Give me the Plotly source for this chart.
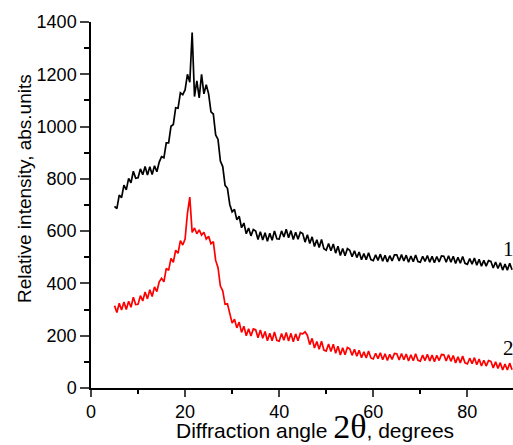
import plotly.graph_objects as go

# 2-theta grid (degrees)
two_theta = [5.0 + 0.5 * i for i in range(170)]

# Curve 1 (black)
curve1 = [
    695, 686, 738, 728, 776, 758, 802, 785, 829, 802,
    804, 838, 816, 847, 815, 846, 817, 850, 827, 864,
    885, 881, 938, 938, 1001, 1008, 1072, 1070, 1129, 1122,
    1140, 1200, 1170, 1360, 1115, 1175, 1110, 1200, 1125, 1160,
    1125, 1056, 1048, 968, 951, 868, 847, 775, 764, 702,
    674, 683, 643, 657, 613, 631, 590, 612, 582, 606,
    600, 568, 598, 566, 594, 561, 592, 565, 601, 571,
    570, 601, 578, 607, 575, 602, 568, 596, 569, 596,
    591, 558, 586, 553, 578, 541, 567, 537, 568, 533,
    527, 553, 525, 551, 516, 542, 507, 534, 506, 533,
    527, 502, 525, 499, 520, 491, 514, 491, 517, 491,
    487, 509, 488, 512, 485, 508, 482, 506, 486, 509,
    509, 486, 510, 486, 508, 481, 505, 483, 509, 484,
    481, 504, 484, 507, 481, 504, 479, 503, 482, 505,
    504, 481, 506, 481, 504, 476, 500, 477, 503, 477,
    473, 495, 474, 497, 470, 492, 466, 488, 466, 487,
    484, 459, 482, 457, 479, 451, 474, 451, 477, 452,
]

# Curve 2 (red)
curve2 = [
    315, 289, 324, 298, 329, 300, 332, 309, 347, 319,
    320, 353, 333, 367, 341, 376, 350, 387, 369, 406,
    420, 406, 458, 450, 496, 481, 527, 515, 564, 547,
    570, 668, 730, 595, 612, 590, 605, 585, 596, 570,
    580, 552, 560, 488, 460, 390, 372, 320, 322, 278,
    248, 263, 230, 252, 213, 236, 200, 227, 199, 226,
    223, 192, 222, 190, 216, 181, 209, 181, 214, 182,
    179, 208, 183, 212, 180, 209, 177, 207, 181, 209,
    207, 215, 201, 166, 190, 153, 178, 148, 179, 145,
    141, 168, 140, 167, 133, 160, 126, 154, 127, 155,
    150, 125, 148, 122, 144, 116, 138, 115, 141, 115,
    111, 133, 112, 135, 108, 131, 105, 129, 109, 132,
    131, 107, 132, 108, 130, 103, 127, 104, 131, 106,
    103, 126, 105, 129, 103, 126, 101, 125, 105, 128,
    127, 103, 127, 102, 124, 96, 119, 96, 122, 96,
    92, 114, 93, 116, 89, 111, 84, 106, 84, 105,
    102, 77, 100, 75, 97, 69, 92, 69, 95, 70,
]

curve_labels = ["1", "2"]
x_ticks = [0, 20, 40, 60, 80]
y_ticks = [0, 200, 400, 600, 800, 1000, 1200, 1400]

fig = go.Figure()
fig.add_trace(go.Scatter(x=two_theta, y=curve1, mode="lines",
                         line=dict(color="black", width=1.7), showlegend=False))
fig.add_trace(go.Scatter(x=two_theta, y=curve2, mode="lines",
                         line=dict(color="#ff0000", width=1.7), showlegend=False))

tickfont = dict(family="Liberation Sans, Arial", size=18, color="black")
fig.update_xaxes(range=[0, 89.7], tickvals=x_ticks, ticks="outside", ticklen=7,
                 tickwidth=1.5, showline=True, linecolor="black", linewidth=1.5,
                 showgrid=False, zeroline=False, tickfont=tickfont,
                 minor=dict(dtick=10, ticks="outside", ticklen=4, tickwidth=1.5,
                            tickcolor="black", showgrid=False))
fig.update_yaxes(range=[0, 1400], tickvals=y_ticks, ticks="outside", ticklen=9,
                 tickwidth=1.5, showline=True, linecolor="black", linewidth=1.5,
                 showgrid=False, zeroline=False, tickfont=tickfont,
                 minor=dict(dtick=100, ticks="outside", ticklen=5, tickwidth=1.5,
                            tickcolor="black", showgrid=False))

fig.add_annotation(x=88.8, y=531, xref="x", yref="y", text=curve_labels[0],
                   showarrow=False, font=dict(family="Liberation Serif", size=21, color="black"))
fig.add_annotation(x=88.8, y=153, xref="x", yref="y", text=curve_labels[1],
                   showarrow=False, font=dict(family="Liberation Serif", size=21, color="black"))

fig.add_annotation(x=-0.156, y=0.544, xref="paper", yref="paper",
                   xanchor="center", yanchor="middle",
                   text="Relative intensity, abs.units", textangle=-90, showarrow=False,
                   font=dict(family="Liberation Sans, Arial", size=19, color="black"))
fig.add_annotation(x=0.53, y=-0.16, xref="paper", yref="paper",
                   xanchor="center", yanchor="bottom",
                   text='Diffraction angle <span style="font-family:Liberation Serif;font-size:34px">2θ</span>, degrees',
                   showarrow=False,
                   font=dict(family="Liberation Sans, Arial", size=21, color="black"))

fig.update_layout(width=513, height=445, margin=dict(l=91, r=0, t=22, b=57),
                  plot_bgcolor="white", paper_bgcolor="white")

fig.write_html("out.html")
